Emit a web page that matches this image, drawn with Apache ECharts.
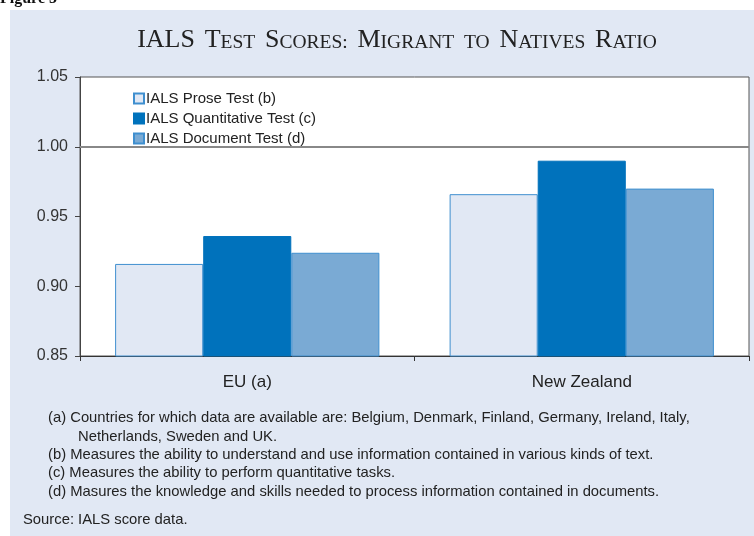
<!DOCTYPE html>
<html>
<head>
<meta charset="utf-8">
<script src="https://cdn.jsdelivr.net/npm/echarts@6/dist/echarts.min.js"></script>
<style>
  html, body { margin: 0; padding: 0; background: #fff; }
  #main { width: 754px; height: 536px; }
</style>
</head>
<body>
<div id="main"></div>
<script>
// data
var categories = ['EU (a)', 'New Zealand'];
var seriesNames = ['IALS Prose Test (b)', 'IALS Quantitative Test (c)', 'IALS Document Test (d)'];
var proseVals = [0.916, 0.966];
var quantVals = [0.936, 0.990];
var docVals = [0.924, 0.970];
var yTicks = [0.85, 0.90, 0.95, 1.00, 1.05];
var notes = [
  '(a) Countries for which data are available are: Belgium, Denmark, Finland, Germany, Ireland, Italy,',
  'Netherlands, Sweden and UK.',
  '(b) Measures the ability to understand and use information contained in various kinds of text.',
  '(c) Measures the ability to perform quantitative tasks.',
  '(d) Masures the knowledge and skills needed to process information contained in documents.'
];
var sourceText = 'Source: IALS score data.';

var myChart = echarts.init(document.getElementById('main'));

// 小型大写标题
var titleWords = [['IALS', ''], ['T', 'EST'], ['S', 'CORES:'], ['M', 'IGRANT'], ['', 'TO'], ['N', 'ATIVES'], ['R', 'ATIO']];
var titleText = titleWords.map(function (w) {
  var s = '';
  if (w[0]) s += '{big|' + w[0] + '}';
  if (w[1]) s += '{sm|' + w[1] + '}';
  return s;
}).join('{sm|  }');

var noteY = [418, 437, 455, 473, 492];
var noteX = [48, 78, 48, 48, 48];
var noteGraphics = notes.map(function (t, i) {
  return {
    type: 'text', x: noteX[i], y: noteY[i],
    style: { text: t, font: '14.8px "Liberation Sans", Arial, sans-serif', fill: '#222', textVerticalAlign: 'middle' }
  };
});

var barBorder = ['#3f8fcf', '#0072bc', '#3f8fcf'];
var barFill = ['#e1e8f4', '#0072bc', '#7aaad4'];
var vals = [proseVals, quantVals, docVals];

option = {
  backgroundColor: '#fff',
  animation: false,
  graphic: [
    { type: 'rect', shape: { x: 10, y: 10, width: 744, height: 526 }, style: { fill: '#e1e8f4' }, z: -10 },
    { type: 'text', x: 0, y: 7, style: { text: 'Figure 5', font: 'bold 16px "Liberation Serif", serif', fill: '#111', textVerticalAlign: 'bottom' } },
    {
      type: 'text', x: 397, y: 40,
      style: {
        text: titleText, fill: '#222', align: 'center', verticalAlign: 'middle',
        rich: {
          big: { fontFamily: '"Liberation Serif", "Times New Roman", serif', fontSize: 26, color: '#222', verticalAlign: 'bottom' },
          sm: { fontFamily: '"Liberation Serif", "Times New Roman", serif', fontSize: 19.5, color: '#222', verticalAlign: 'bottom' }
        }
      }
    },
    {
      type: 'text', x: 23, y: 520,
      style: { text: sourceText, font: '14.8px "Liberation Sans", Arial, sans-serif', fill: '#222', textVerticalAlign: 'middle' }
    }
  ].concat(noteGraphics),
  grid: {
    show: true, left: 80, right: 5, top: 77, bottom: 180,
    backgroundColor: '#fff', borderColor: '#555', borderWidth: 1
  },
  legend: {
    orient: 'vertical', left: 128, top: 86,
    itemWidth: 10, itemHeight: 10, itemGap: 5,
    icon: 'rect',
    textStyle: { fontSize: 15, color: '#222', fontFamily: '"Liberation Sans", Arial, sans-serif', padding: [0, 0, 0, -3] },
    data: seriesNames
  },
  xAxis: {
    type: 'category', data: categories,
    axisLine: { lineStyle: { color: '#333', width: 1 } },
    axisTick: { show: true, length: 5, lineStyle: { color: '#333' } },
    axisLabel: { fontSize: 17, color: '#222', margin: 18, fontFamily: '"Liberation Sans", Arial, sans-serif' }
  },
  yAxis: {
    type: 'value', min: 0.85, max: 1.05, interval: 0.05,
    axisLine: { show: true, lineStyle: { color: '#444' } },
    axisTick: { show: true, length: 5, lineStyle: { color: '#444' } },
    splitLine: { show: false },
    axisLabel: {
      fontSize: 16, color: '#333', margin: 12, fontFamily: '"Liberation Sans", Arial, sans-serif',
      customValues: yTicks,
      formatter: function (v) { return v.toFixed(2); }
    }
  },
  series: seriesNames.map(function (name, i) {
    var s = {
      name: name, type: 'bar', data: vals[i],
      barGap: '0%', barCategoryGap: '21%',
      itemStyle: { color: barFill[i], borderColor: barBorder[i], borderWidth: 1 }
    };
    if (i === 0) {
      s.markLine = {
        silent: true, symbol: 'none', label: { show: false },
        lineStyle: { color: '#888', width: 2, type: 'solid' },
        data: [{ yAxis: 1.0 }]
      };
    }
    return s;
  })
};
myChart.setOption(option);
</script>
</body>
</html>
